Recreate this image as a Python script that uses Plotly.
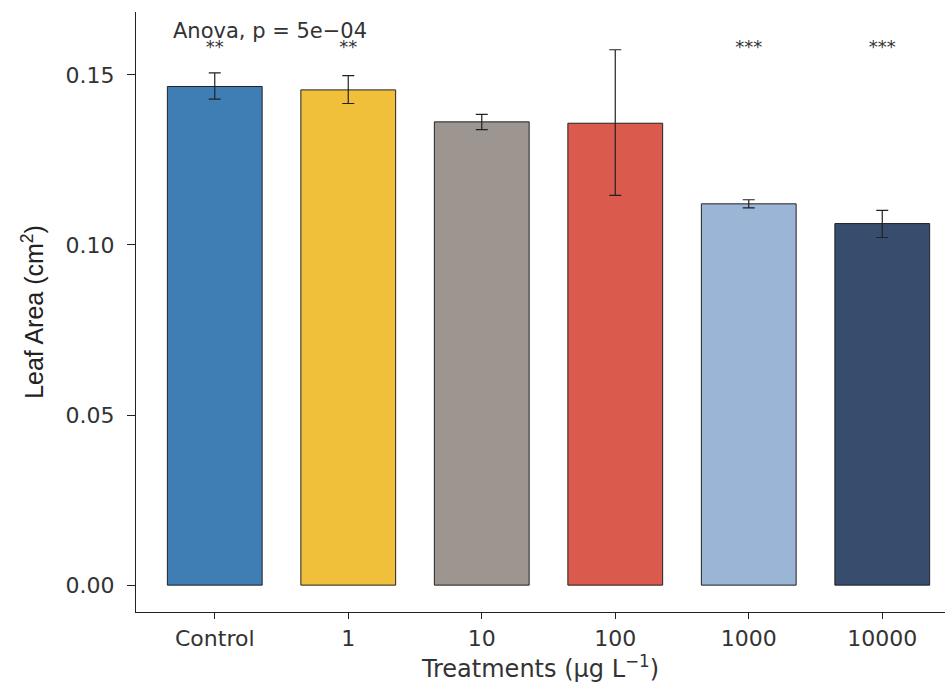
import plotly.graph_objects as go

categories = ["Control", "1", "10", "100", "1000", "10000"]
means = [0.1466, 0.1456, 0.1362, 0.1358, 0.1121, 0.1063]
err_plus = [0.0040, 0.0042, 0.0022, 0.0216, 0.0012, 0.0039]
err_minus = [0.0037, 0.0040, 0.0023, 0.0212, 0.0012, 0.0041]
colors = ["#3F7DB5", "#F1C03A", "#9D9590", "#DB5A4E", "#9AB5D6", "#364D6E"]
signif = ["**", "**", "", "", "***", "***"]
signif_y = 0.1578
anova_text = "Anova, p = 5e\u221204"

FONT_H = "DejaVu Sans, Liberation Sans, Arial, sans-serif"
FONT_V = "Liberation Sans, Arial, sans-serif"

fig = go.Figure()
fig.add_trace(go.Bar(
    x=categories, y=means,
    marker=dict(color=colors, line=dict(color="#222222", width=1)),
    width=0.71,
    error_y=dict(type="data", symmetric=False, array=err_plus, arrayminus=err_minus,
                 color="#222222", thickness=1.2, width=6),
    showlegend=False,
))
fig.add_trace(go.Scatter(
    x=categories, y=[signif_y] * len(categories), mode="text", text=signif,
    textfont=dict(family=FONT_H, size=18, color="#333333"),
    showlegend=False, hoverinfo="skip",
))
fig.add_annotation(
    x=-0.33, y=0.1630, xref="x", yref="y", text=anova_text, showarrow=False,
    xanchor="left", yanchor="middle",
    font=dict(family=FONT_H, size=21, color="#333333"),
)

tick_font = dict(family=FONT_H, size=22, color="#333333")
fig.update_layout(
    width=951, height=688,
    margin=dict(l=136, r=6, t=12, b=76),
    plot_bgcolor="white", paper_bgcolor="white",
    bargap=0.29,
    xaxis=dict(
        type="category", range=[-0.59, 5.47],
        showline=True, linecolor="#222222", linewidth=1.2,
        ticks="outside", ticklen=6, tickcolor="#222222",
        tickfont=tick_font, showgrid=False, zeroline=False,
        title=dict(text="Treatments (\u00b5g L<sup>\u22121</sup>)",
                   font=dict(family=FONT_H, size=24, color="#333333"), standoff=10),
    ),
    yaxis=dict(
        range=[-0.0079, 0.1685],
        tickvals=[0, 0.05, 0.10, 0.15], ticktext=["0.00", "0.05", "0.10", "0.15"],
        showline=True, linecolor="#222222", linewidth=1.2,
        ticks="outside", ticklen=8, tickcolor="#222222", ticklabelstandoff=8,
        tickfont=tick_font, showgrid=False, zeroline=False,
        title=dict(text="Leaf Area (cm<sup>2</sup>)",
                   font=dict(family=FONT_V, size=25, color="#222222"), standoff=14),
    ),
)

fig.write_html("out.html")
